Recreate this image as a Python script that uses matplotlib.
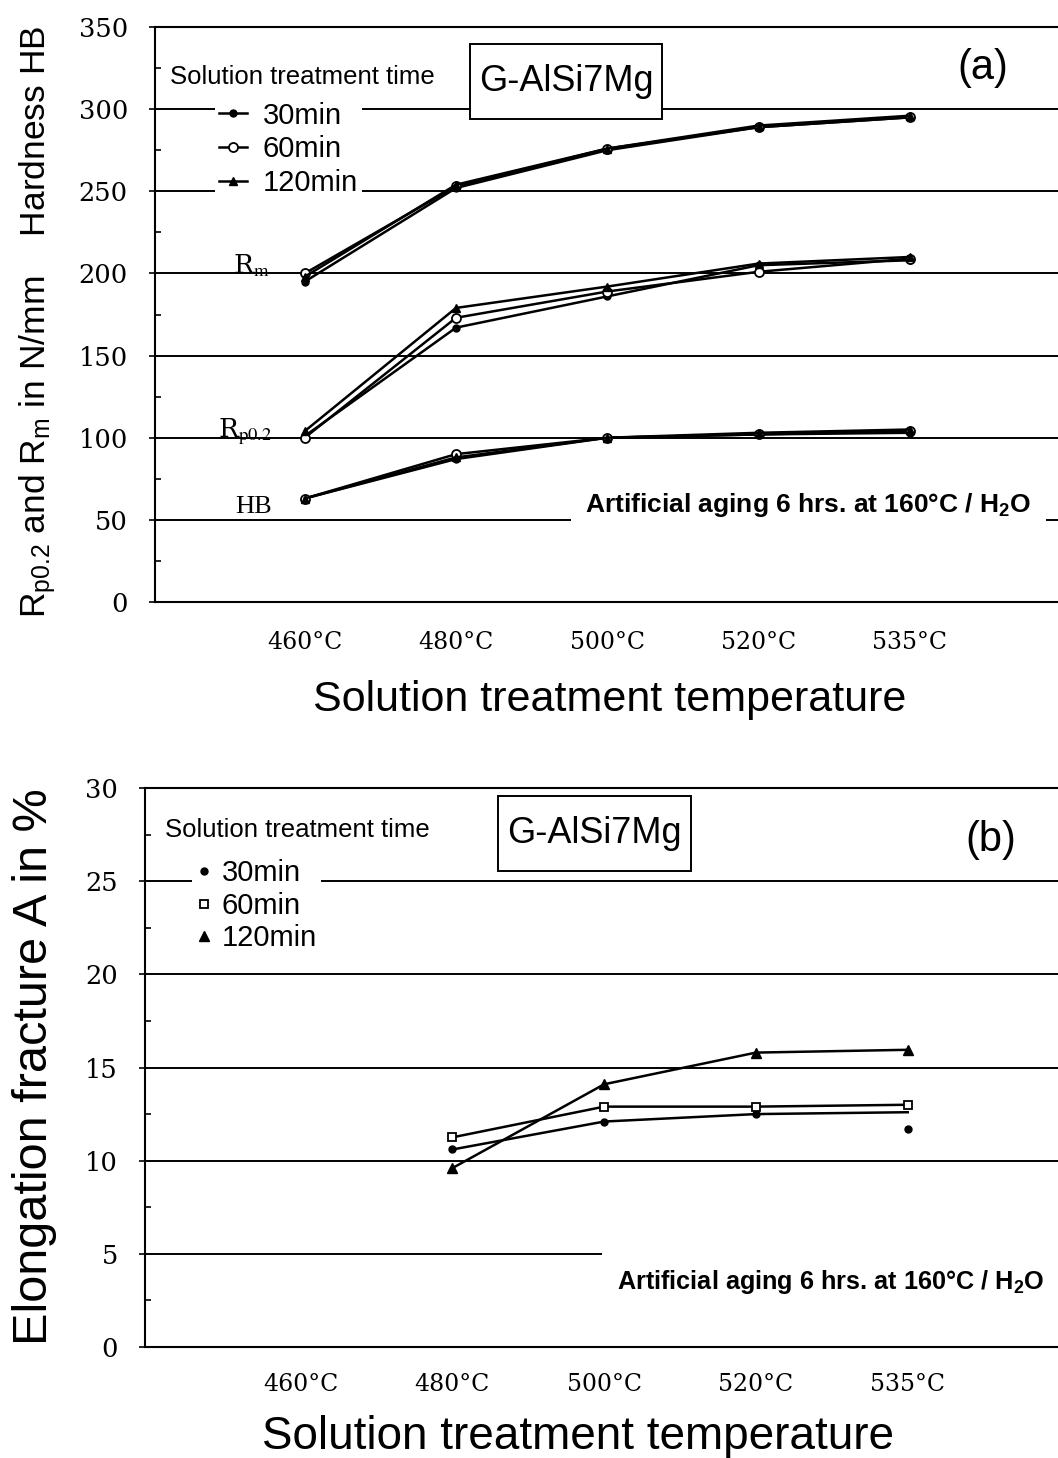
import matplotlib
matplotlib.use("Agg")
import matplotlib.pyplot as plt
from matplotlib.lines import Line2D
from matplotlib.path import Path
from matplotlib.ticker import MultipleLocator
import numpy as np

plt.rcParams["font.family"] = ["Liberation Sans", "DejaVu Sans"]
plt.rcParams["mathtext.fontset"] = "custom"
plt.rcParams["mathtext.rm"] = "Liberation Sans"
plt.rcParams["mathtext.it"] = "Liberation Sans:italic"
plt.rcParams["mathtext.bf"] = "Liberation Sans:bold"

# ---------------- data ----------------
temps = ["460°C", "480°C", "500°C", "520°C", "535°C"]
times = ["30min", "60min", "120min"]

# panel (a): tensile strength Rm, yield strength Rp0.2, hardness HB
rm_30 = [195, 252, 275, 289, 295]
rm_60 = [200, 253, 276, 289, 295]
rm_120 = [198, 254, 276, 290, 296]
rp_30 = [101, 167, 186, 205, 208]
rp_60 = [100, 173, 189, 201, 209]
rp_120 = [104, 179, 192, 206, 210]
hb_30 = [63, 87, 100, 102, 103]
hb_60 = [63, 90, 100, 102, 104]
hb_120 = [63, 88, 100, 103, 105]

# panel (b): elongation (480..535 °C)
temps_b = temps[1:]
el_30_curve = [10.6, 12.1, 12.5, 12.6]
el_30_pts = [10.6, 12.1, 12.5, 11.7]
el_60 = [11.25, 12.9, 12.9, 13.0]
el_120 = [9.6, 14.1, 15.8, 15.95]

# ---------------- figure ----------------
W, H = 1058, 1458
fig = plt.figure(figsize=(W / 100, H / 100), dpi=100)


def frac(l, t, r, b):
    return [l / W, 1 - b / H, (r - l) / W, (b - t) / H]


def rect_box(padx, pady):
    def f(x0, y0, width, height, mutation_size):
        px = padx * mutation_size
        py = pady * mutation_size
        xa, ya = x0 - px, y0 - py
        xb, yb = x0 + width + px, y0 + height + py
        return Path([(xa, ya), (xb, ya), (xb, yb), (xa, yb), (xa, ya)], closed=True)
    return f


LW = 1.8
SERIF = "DejaVu Serif"


def style_axes(ax, ymax, ystep, yminor, xpad):
    for s in ["left", "top", "bottom"]:
        ax.spines[s].set_linewidth(1.5)
    ax.spines["right"].set_visible(False)
    ax.set_ylim(0, ymax)
    ax.set_yticks(np.arange(0, ymax + 0.01, ystep))
    ax.yaxis.set_minor_locator(MultipleLocator(yminor))
    ax.tick_params(axis="y", which="major", direction="out", length=4, width=1.2, pad=15.5,
                   labelsize=18.5)
    ax.tick_params(axis="y", which="minor", direction="in", length=4, width=1.2)
    ax.tick_params(axis="x", which="both", length=0, pad=xpad, labelsize=17)
    for lab in ax.get_yticklabels():
        lab.set_fontfamily(SERIF)
    ax.yaxis.grid(True, which="major", color="black", lw=1.4)
    ax.set_axisbelow(True)


AGING = r"Artificial aging 6 hrs. at 160°C / H$_\mathbf{2}$O"

# ---------------- panel (a) ----------------
ax1 = fig.add_axes(frac(155, 27, 1058, 602))
x = np.arange(len(temps))
ax1.set_xlim(-0.99, 4.98)
ax1.set_xticks(x)
ax1.set_xticklabels(temps, fontfamily=SERIF)
style_axes(ax1, 350, 50, 25, 21)

mk = {
    "30min": dict(marker="o", ms=5, mfc="black", mec="black"),
    "60min": dict(marker="o", ms=6.5, mfc="white", mec="black", mew=1.3),
    "120min": dict(marker="^", ms=6, mfc="black", mec="black"),
}
for series, t in [((rm_30, rp_30, hb_30), "30min"),
                  ((rm_60, rp_60, hb_60), "60min"),
                  ((rm_120, rp_120, hb_120), "120min")]:
    for vals in series:
        ax1.plot(x, vals, color="black", lw=LW, zorder=3, **mk[t])

ax1.text(-0.89, 319.6, "Solution treatment time", fontsize=18.5, ha="left", va="center")
handles_a = [Line2D([], [], color="black", lw=LW, **mk[t]) for t in times]
leg1 = ax1.legend(handles_a, times, loc="upper left", bbox_to_anchor=(0.066, 0.878),
                  fontsize=21, frameon=True, framealpha=1, facecolor="white",
                  edgecolor="none", fancybox=False, borderpad=0.15, handlelength=0.95,
                  handletextpad=0.55, labelspacing=0.2, borderaxespad=0)

ax1.text(1.727, 316.8, "G-AlSi7Mg", fontsize=26, ha="center", va="center", zorder=6,
         bbox=dict(boxstyle=rect_box(0.25, 0.55), fc="white", ec="black", lw=1.4))
ax1.text(4.484, 325, "(a)", fontsize=30, ha="center", va="center")

ax1.text(-0.474, 200.3, r"R$_{\mathrm{m}}$", fontsize=19, ha="left", va="baseline",
         fontfamily=SERIF, math_fontfamily="stix")
ax1.text(-0.573, 100.4, r"R$_{\mathrm{p0.2}}$", fontsize=19, ha="left", va="baseline",
         fontfamily=SERIF, math_fontfamily="stix")
ax1.text(-0.461, 54.2, "HB", fontsize=19, ha="left", va="baseline",
         fontfamily="Liberation Serif")
ax1.text(1.853, 59.0, AGING, fontsize=19, fontweight="bold",
         ha="left", va="center", zorder=4,
         bbox=dict(boxstyle="square,pad=0.55", fc="white", ec="none"))

fig.text(38 / W, 1 - 322 / H, r"R$_{\mathrm{p0.2}}$ and R$_{\mathrm{m}}$ in N/mm    Hardness HB",
         rotation=90, fontsize=25.5, ha="center", va="center")
fig.text(610 / W, 1 - 700 / H, "Solution treatment temperature", fontsize=31,
         ha="center", va="center")

# ---------------- panel (b) ----------------
ax2 = fig.add_axes(frac(145, 788, 1058, 1347))
xb = np.arange(1, len(temps))
ax2.set_xlim(-1.025, 4.99)
ax2.set_xticks(x)
ax2.set_xticklabels(temps, fontfamily=SERIF)
style_axes(ax2, 30, 5, 2.5, 19)

mkb = {
    "30min": dict(marker="o", ms=5, mfc="black", mec="black"),
    "60min": dict(marker="s", ms=6, mfc="white", mec="black", mew=1.3),
    "120min": dict(marker="^", ms=7, mfc="black", mec="black"),
}
ax2.plot(xb, el_30_curve, color="black", lw=LW, zorder=3)
ax2.plot(xb, el_30_pts, ls="none", zorder=3, **mkb["30min"])
ax2.plot(xb, el_60, color="black", lw=LW, zorder=3, **mkb["60min"])
ax2.plot(xb, el_120, color="black", lw=LW, zorder=3, **mkb["120min"])

ax2.text(-0.893, 27.75, "Solution treatment time", fontsize=18.5, ha="left", va="center")
handles_b = [Line2D([], [], ls="none", **mkb[t]) for t in times]
leg2 = ax2.legend(handles_b, times, loc="upper left", bbox_to_anchor=(0.052, 0.88),
                  fontsize=21, frameon=True, framealpha=1, facecolor="white",
                  edgecolor="none", fancybox=False, borderpad=0.15, handlelength=0.5,
                  handletextpad=0.35, labelspacing=0.15, borderaxespad=0)

ax2.text(1.936, 27.56, "G-AlSi7Mg", fontsize=26, ha="center", va="center", zorder=6,
         bbox=dict(boxstyle=rect_box(0.25, 0.55), fc="white", ec="black", lw=1.4))
ax2.text(4.548, 27.2, "(b)", fontsize=30, ha="center", va="center")
ax2.text(2.084, 3.49, AGING, fontsize=18.2, fontweight="bold",
         ha="left", va="center", zorder=4,
         bbox=dict(boxstyle="square,pad=0.6", fc="white", ec="none"))

fig.text(35 / W, 1 - 1067 / H, "Elongation fracture A in %", rotation=90, fontsize=35,
         ha="center", va="center")
fig.text(578 / W, 1 - 1437 / H, "Solution treatment temperature", fontsize=33,
         ha="center", va="center")

fig.savefig("out.png", dpi=100, facecolor="white")
